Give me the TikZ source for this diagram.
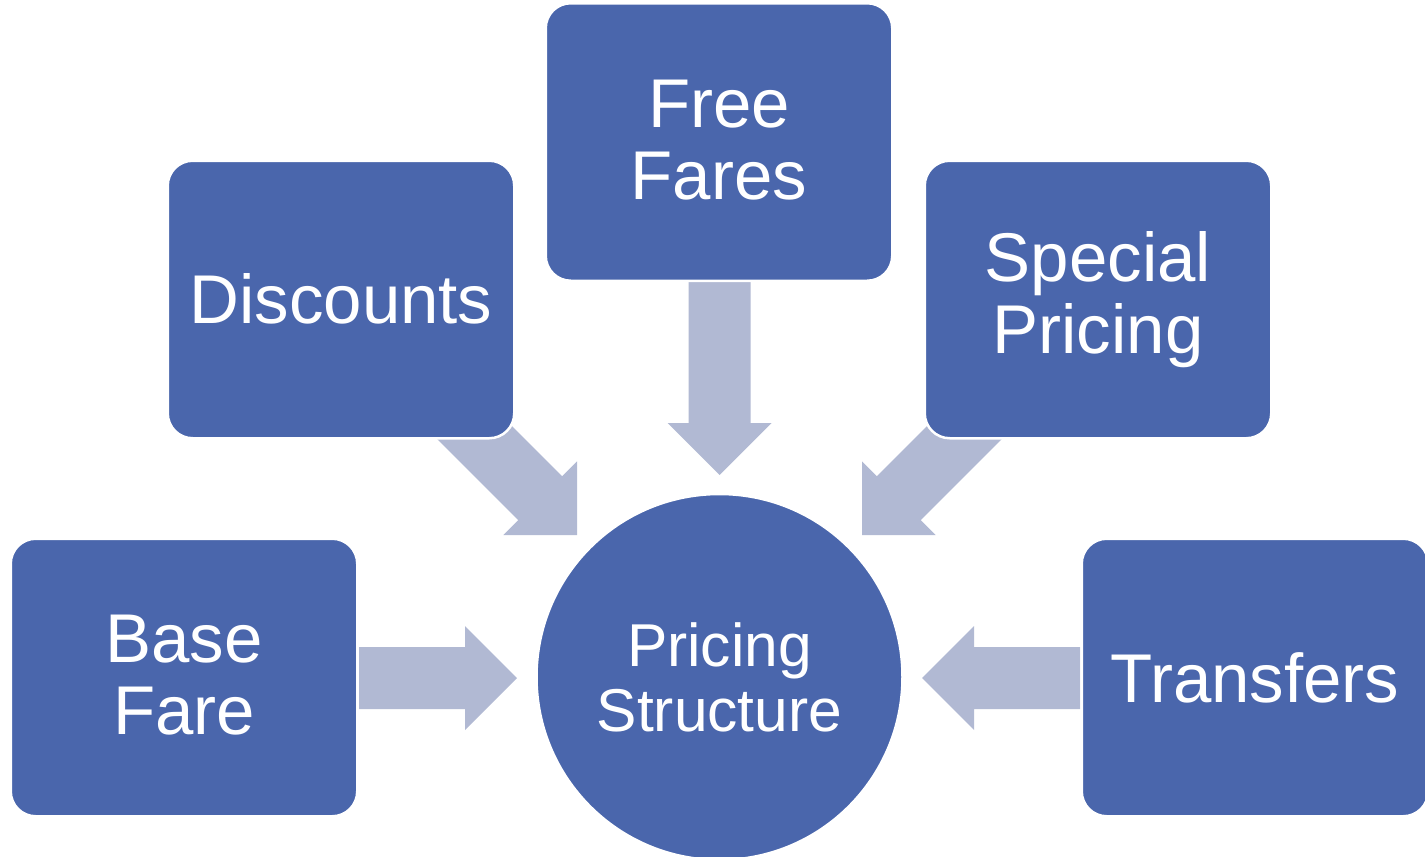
\documentclass[tikz,border=0pt]{standalone}
\usepackage{fontspec}
\setmainfont{Liberation Sans}
\usetikzlibrary{calc}
\definecolor{boxblue}{HTML}{4A66AC}
\definecolor{arrowgray}{HTML}{B1B9D3}
\tikzset{
  box/.style={draw=white, line width=2.5pt, fill=boxblue, rounded corners=25pt,
    minimum width=346.5pt, minimum height=277.5pt, inner sep=0pt, text=white,
    align=center, font=\fontsize{69}{72}\selectfont},
  hub/.style={draw=white, line width=2.5pt, fill=boxblue, circle, minimum size=366pt,
    inner sep=0pt, text=white, align=center, font=\fontsize{60.5}{65}\selectfont},
  arrowfill/.style={fill=arrowgray}
}
\newcommand\blockarrow[2]{%
  \path coordinate (h) at ($(#2)!52pt!(#1)$);
  \fill[arrowfill] ($(#1)!31pt!90:(#2)$) -- ($(h)!31pt!-90:(#1)$) -- ($(h)!52pt!-90:(#1)$)
    -- (#2) -- ($(h)!52pt!90:(#1)$) -- ($(h)!31pt!90:(#1)$) -- ($(#1)!31pt!-90:(#2)$) -- cycle;
}
\begin{document}
\begin{tikzpicture}[x=1pt,y=-1pt]
\useasboundingbox (0,0) rectangle (1425,857);
% arrow end points
\coordinate (t1) at (359,678);   \coordinate (p1) at (517,678);
\coordinate (t2) at (1080,678);  \coordinate (p2) at (922,678);
\coordinate (t3) at (719.5,282); \coordinate (p3) at (719.5,475);
\coordinate (t4) at (459,417);   \coordinate (p4) at (577,535);
\coordinate (t5) at (980,417);   \coordinate (p5) at (862,535);
\blockarrow{t1}{p1}
\blockarrow{t2}{p2}
\blockarrow{t3}{p3}
\blockarrow{t4}{p4}
\blockarrow{t5}{p5}
% nodes
\node[box] (free) at (719,142) {};
\node[text=white, align=center, font=\fontsize{69}{72}\selectfont] (freet) at (719,140) {Free\\Fares};
\node[box] (disc) at (341,299.5) {\raisebox{2pt}{Discounts}};
\node[box] (spec) at (1098,299.5) {Special\\Pricing};
\node[box] (base) at (184,677.5) {};
\node[text=white, align=center, font=\fontsize{69}{72}\selectfont] (baset) at (184,675.5) {Base\\Fare};
\node[box] (trans) at (1255,677.5) {Transfers};
\node[hub] (hub) at (719.5,677) {Pricing\\Structure};
\end{tikzpicture}
\end{document}
